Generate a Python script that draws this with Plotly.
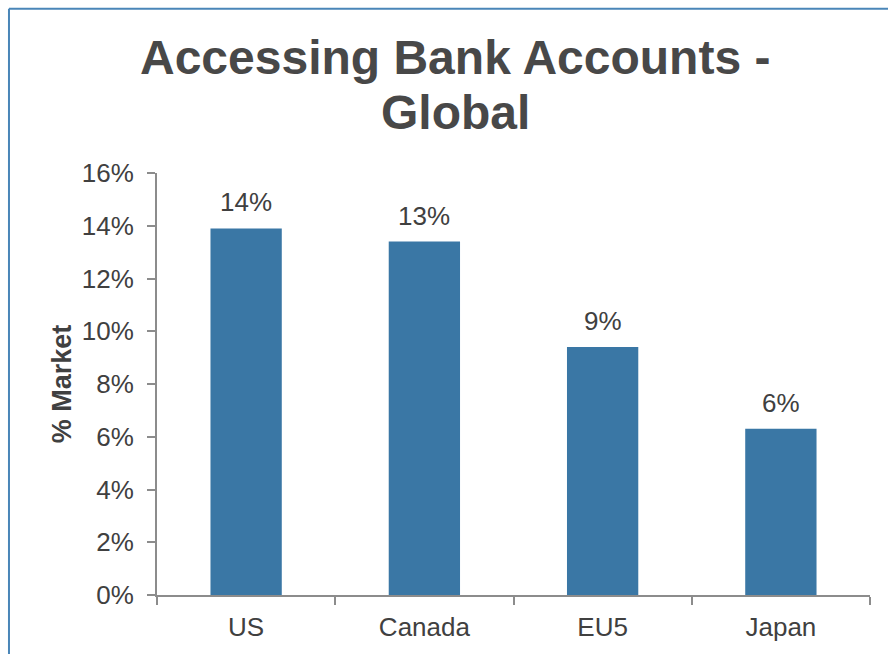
import plotly.graph_objects as go

# Share of market accessing bank accounts, by region
regions = ["US", "Canada", "EU5", "Japan"]
share = [0.139, 0.134, 0.094, 0.063]
y_ticks = [0, 0.02, 0.04, 0.06, 0.08, 0.10, 0.12, 0.14, 0.16]
y_tick_labels = ["0%", "2%", "4%", "6%", "8%", "10%", "12%", "14%", "16%"]
title_lines = ["Accessing Bank Accounts -", "Global"]

bar_color = "#3A77A5"
text_color = "#404040"
axis_color = "#8C8C8C"
frame_color = "#4A86B8"
font_family = "Liberation Sans, Arial, sans-serif"

fig = go.Figure()
fig.add_trace(go.Bar(
    x=regions,
    y=share,
    width=0.4,
    marker=dict(color=bar_color, line=dict(width=0)),
    hoverinfo="skip",
))

# value labels above each bar
for r, v in zip(regions, share):
    fig.add_annotation(
        x=r, y=v, text=f"{round(v * 100):d}%",
        showarrow=False, yanchor="bottom", yshift=9,
        font=dict(size=26, color=text_color, family=font_family),
    )

# two-line bold title
for line, ypos in zip(title_lines, [1.2736, 1.1439]):
    fig.add_annotation(
        xref="paper", yref="paper", x=0.418, y=ypos,
        xanchor="center", yanchor="middle", showarrow=False,
        text=f"<b>{line}</b>",
        font=dict(size=48, color="#484848", family=font_family),
    )

# frame along the top and left edges
fig.add_shape(type="line", xref="paper", yref="paper",
              x0=-0.2076, x1=1.1, y0=1.389, y1=1.389,
              line=dict(color=frame_color, width=2))
fig.add_shape(type="line", xref="paper", yref="paper",
              x0=-0.2076, x1=-0.2076, y0=1.389, y1=-0.2,
              line=dict(color=frame_color, width=2))

fig.update_layout(
    width=888, height=654,
    margin=dict(l=157, r=18, t=173, b=57),
    paper_bgcolor="white", plot_bgcolor="white",
    showlegend=False,
    font=dict(family=font_family, color=text_color),
    bargap=0.6,
)

fig.update_xaxes(
    type="category",
    showline=True, linecolor=axis_color, linewidth=2,
    ticks="outside", tickson="boundaries", ticklen=8,
    tickcolor=axis_color, tickwidth=2,
    tickfont=dict(size=26, color=text_color),
    ticklabelstandoff=8,
    showgrid=False, zeroline=False,
)
fig.update_yaxes(
    range=[0, 0.16],
    tickvals=y_ticks, ticktext=y_tick_labels,
    showline=True, linecolor=axis_color, linewidth=2,
    ticks="outside", ticklen=8, tickcolor=axis_color, tickwidth=2,
    tickfont=dict(size=26, color=text_color),
    ticklabelstandoff=8,
    showgrid=False, zeroline=False,
    title=dict(text="<b>% Market</b>", font=dict(size=27, color=text_color), standoff=2),
)

fig.write_html("out.html")
